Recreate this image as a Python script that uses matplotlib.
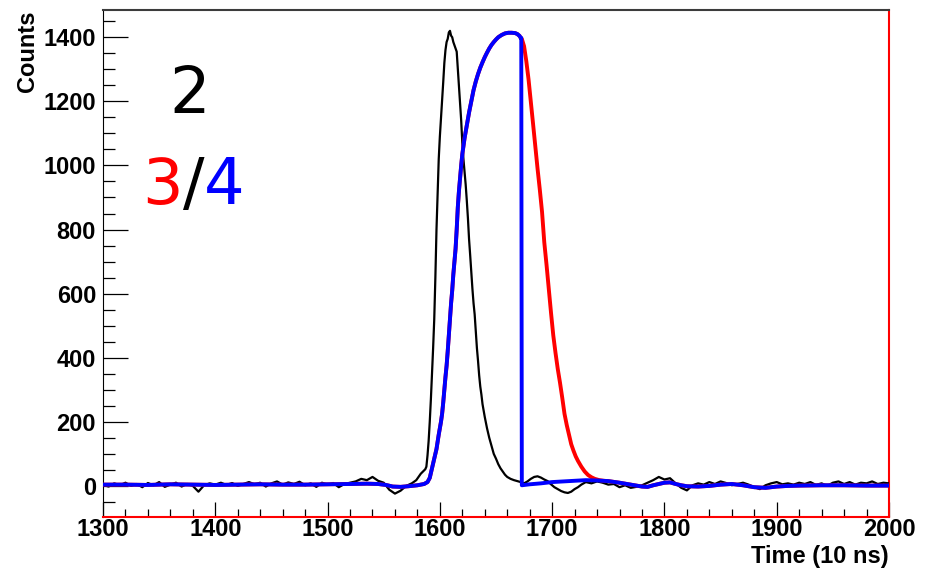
import matplotlib
matplotlib.use("Agg")
import matplotlib.pyplot as plt
from matplotlib.ticker import MultipleLocator
import numpy as np

# channel 2 (black trace)
ch2_t = [1300, 1305, 1310, 1315, 1320, 1325, 1330, 1335, 1340, 1345, 1350, 1355,
         1360, 1365, 1370, 1375, 1380, 1385, 1390, 1395, 1400, 1405, 1410, 1415,
         1420, 1425, 1430, 1435, 1440, 1445, 1450, 1455, 1460, 1465, 1470, 1475,
         1480, 1485, 1490, 1495, 1500, 1505, 1510, 1515, 1520, 1525, 1530, 1535,
         1540, 1545, 1550, 1555, 1560, 1565, 1570, 1575, 1579, 1581, 1583, 1585,
         1587, 1588, 1589, 1590, 1591, 1592, 1593, 1594, 1595, 1596, 1597, 1598,
         1599, 1600, 1601, 1602, 1603, 1604, 1605, 1606, 1607, 1608, 1609, 1610,
         1611, 1612, 1613, 1614, 1615, 1616, 1617, 1618, 1619, 1620, 1621, 1622,
         1623, 1624, 1625, 1626, 1627, 1628, 1629, 1630, 1631, 1632, 1633, 1634,
         1635, 1636, 1637, 1638, 1639, 1640, 1642, 1644, 1646, 1648, 1650, 1652,
         1654, 1656, 1658, 1660, 1663, 1666, 1669, 1672, 1675, 1678, 1681, 1684,
         1687, 1690, 1693, 1696, 1699, 1702, 1705, 1708, 1711, 1714, 1717, 1720,
         1723, 1726, 1730, 1735, 1740, 1745, 1750, 1755, 1760, 1765, 1770, 1775,
         1780, 1785, 1790, 1795, 1800, 1805, 1810, 1815, 1820, 1825, 1830, 1835,
         1840, 1845, 1850, 1855, 1860, 1865, 1870, 1875, 1880, 1885, 1890, 1895,
         1900, 1905, 1910, 1915, 1920, 1925, 1930, 1935, 1940, 1945, 1950, 1955,
         1960, 1965, 1970, 1975, 1980, 1985, 1990, 1995, 2000]
ch2_v = [3, -2, 8, 2, 10, 0, 6, -4, 9, 2, 12, -3,
         4, 10, -2, 6, 0, -18, 2, 8, 4, 10, 3, 9,
         0, 6, 12, 5, 10, -2, 8, 14, 4, 11, 6, 13,
         2, 8, -3, 10, 4, 9, -4, 6, 10, 14, 22, 18,
         28, 16, 10, -12, -24, -15, 0, 8, 18, 28, 38, 45,
         52, 60, 95, 140, 200, 270, 350, 430, 520, 650, 800, 910,
         1020, 1090, 1145, 1205, 1260, 1320, 1360, 1385, 1395, 1415, 1420, 1405,
         1400, 1385, 1375, 1365, 1355, 1300, 1250, 1190, 1140, 1070, 1020, 980,
         940, 890, 835, 770, 720, 665, 615, 570, 535, 480, 430, 390,
         345, 310, 285, 255, 235, 215, 180, 150, 125, 100, 85, 68,
         55, 45, 35, 28, 22, 18, 15, 12, 8, 14, 22, 28,
         30, 26, 20, 15, 5, -4, -10, -16, -20, -22, -18, -10,
         -4, 4, 12, 8, 14, 10, 4, 6, -4, 2, -6, -3,
         2, 10, 18, 28, 20, 24, 8, -6, -14, 2, 8, 4,
         12, 6, 14, 9, 2, 6, 10, 4, -4, -10, 2, 8,
         12, 5, 8, 4, 10, 6, 12, 3, 8, 0, 10, 14,
         6, 12, 4, 10, 8, 14, 6, 10, 8]

# channels 3/4 share the leading edge up to the cut
edge_t = [1300, 1320, 1340, 1360, 1380, 1400, 1420, 1440, 1460, 1480, 1500, 1520,
          1535, 1545, 1552, 1558, 1565, 1572, 1580, 1586, 1589, 1591, 1593, 1595,
          1597, 1599, 1601, 1602, 1603, 1604, 1605, 1606, 1607, 1608, 1609, 1610,
          1611, 1612, 1613, 1614, 1615, 1616, 1617, 1618, 1619, 1620, 1622, 1624,
          1626, 1628, 1630, 1632, 1634, 1636, 1638, 1640, 1642, 1644, 1646, 1648,
          1650, 1652, 1655, 1658, 1661, 1664, 1667, 1669, 1671, 1672]
edge_v = [4, 4, 3, 5, 4, 3, 4, 5, 4, 4, 5, 6,
          7, 6, 3, -2, -3, -1, 2, 6, 12, 25, 55, 85,
          115, 160, 200, 225, 260, 300, 340, 375, 420, 470, 520, 570,
          610, 660, 700, 740, 800, 870, 920, 960, 1000, 1035, 1085, 1125,
          1165, 1200, 1235, 1262, 1285, 1305, 1322, 1338, 1352, 1365, 1376, 1385,
          1393, 1400, 1407, 1412, 1414, 1414, 1413, 1410, 1404, 1398]

# channel 4 after the cut (blue)
ch4_tail_t = [1672.5, 1673, 1680, 1690, 1700, 1710, 1720, 1730, 1740, 1750, 1760, 1770,
              1780, 1785, 1790, 1795, 1800, 1805, 1810, 1815, 1820, 1830, 1840,
              1850, 1860, 1870, 1880, 1890, 1900, 1910, 1920, 1940, 1960, 1980, 2000]
ch4_tail_v = [1398, 2, 5, 8, 12, 14, 16, 18, 17, 15, 10, 4,
              -2, -3, 2, 6, 10, 11, 6, 2, -1, -2, 0,
              4, 6, 2, -4, -6, -2, 0, 1, 2, 2, 1, 1]

# channel 3 falling edge (red)
ch3_tail_t = [1673, 1675, 1677, 1679, 1681, 1683, 1685, 1687, 1689, 1691, 1693,
              1695, 1697, 1699, 1701, 1703, 1705, 1707, 1709, 1711, 1713, 1715,
              1717, 1719, 1721, 1723, 1726, 1729, 1732, 1735, 1738, 1742, 1746]
ch3_tail_v = [1395, 1372, 1325, 1268, 1200, 1130, 1060, 990, 925, 855, 760,
              690, 615, 540, 470, 415, 365, 322, 275, 225, 190, 160,
              130, 110, 92, 78, 60, 45, 34, 27, 22, 18, 16]

ch4_t = edge_t + ch4_tail_t
ch4_v = edge_v + ch4_tail_v
ch3_t = edge_t + ch3_tail_t + [t for t in ch4_tail_t if t > 1746]
ch3_v = edge_v + ch3_tail_v + [v for t, v in zip(ch4_tail_t, ch4_tail_v) if t > 1746]

W, H = 928, 572
fig = plt.figure(figsize=(W / 100, H / 100), dpi=100)
ax = fig.add_axes([103 / W, 1 - 517 / H, (889 - 103) / W, (517 - 10) / H])

ax.plot(ch2_t, ch2_v, color="black", lw=1.6, zorder=3)
ax.plot(ch3_t, ch3_v, color="#ff0000", lw=2.8, zorder=4)
ax.plot(ch4_t, ch4_v, color="#0000ff", lw=2.8, zorder=5)

ax.set_xlim(1300, 2000)
ax.set_ylim(-97, 1485)

ax.xaxis.set_major_locator(MultipleLocator(100))
ax.xaxis.set_minor_locator(MultipleLocator(20))
ax.yaxis.set_major_locator(MultipleLocator(200))
ax.yaxis.set_minor_locator(MultipleLocator(50))

ax.tick_params(axis="y", which="major", direction="in", length=18, width=0.9, pad=5)
ax.tick_params(axis="y", which="minor", direction="in", length=8.6, width=0.9)
ax.tick_params(axis="x", which="major", direction="in", length=10.5, width=0.9, pad=1)
ax.tick_params(axis="x", which="minor", direction="in", length=5.8, width=0.9)

lab_font = dict(family="Liberation Sans", weight="bold", size=17)
for lbl in ax.get_xticklabels() + ax.get_yticklabels():
    lbl.set_fontfamily("Liberation Sans")
    lbl.set_fontweight("bold")
    lbl.set_fontsize(17)

ax.spines["left"].set_color("black")
ax.spines["top"].set_color("#3c3c3c")
ax.spines["top"].set_linewidth(1.5)
ax.spines["bottom"].set_color("#ff0000")
ax.spines["right"].set_color("#ff0000")
ax.spines["bottom"].set_linewidth(1.5)
ax.spines["right"].set_linewidth(1.5)

fig.text(889 / W, 1 - 556 / H, "Time (10 ns)", ha="right", va="center", **lab_font)
fig.text(28 / W, 1 - 10 / H, "Counts", ha="center", va="top", rotation=90, **lab_font)

# channel legend written as big coloured numbers
num_font = dict(family="DejaVu Sans", size=46)
fig.text(190 / W, 1 - 95 / H, "2", ha="center", va="center", color="black", **num_font)
t3 = fig.text(142 / W, 1 - 186 / H, "3", ha="left", va="center", color="#ff0000", **num_font)
t_sl = ax.annotate("/", xy=(1, 0), xycoords=t3, ha="left", va="bottom",
                   color="black", annotation_clip=False, **num_font)
ax.annotate("4", xy=(1, 0), xycoords=t_sl, ha="left", va="bottom",
            color="#0000ff", annotation_clip=False, **num_font)

fig.savefig("out.png", dpi=100)
